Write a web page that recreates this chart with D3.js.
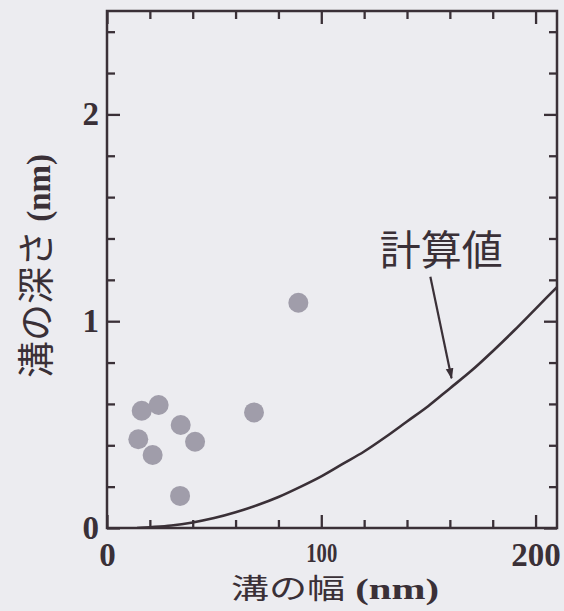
<!DOCTYPE html>
<html>
<head>
<meta charset="utf-8">
<script src="https://cdn.jsdelivr.net/npm/d3@7/dist/d3.min.js"></script>
<style>
  html, body { margin: 0; padding: 0; background: #ececf0; }
  svg { display: block; }
</style>
</head>
<body>
<script>
// ---- data ----
const pointX = [16.2, 24.1, 34.4, 41.1, 14.6, 21.3, 34.1, 68.6, 89.3];
const pointY = [0.567, 0.595, 0.498, 0.417, 0.429, 0.353, 0.155, 0.559, 1.089];

const curveX = [14, 20, 30, 40, 50, 60, 70, 80, 90, 100, 110, 120, 130, 140, 150, 160, 170, 180, 190, 200, 210];
const curveY = [0, 0.004, 0.012, 0.027, 0.048, 0.076, 0.11, 0.15, 0.198, 0.25, 0.31, 0.37, 0.44, 0.515, 0.59, 0.675, 0.76, 0.855, 0.955, 1.06, 1.165];

const xMinorTicks = [20, 40, 60, 80, 120, 140, 160, 180];
const xMajorTicks = [0, 100, 200];
const yMinorTicks = [0.2, 0.4, 0.6, 0.8, 1.2, 1.4, 1.6, 1.8, 2.2, 2.4];
const yMajorTicks = [0, 1, 2];

const xTitle = "溝の幅";
const yTitle = "溝の深さ";
const unitText = " (nm)";
const annoText = "計算値";
const annoLabelAt = [156, 1.27];
const annoArrowFrom = [150.9, 1.215];
const annoArrowTo = [160.8, 0.724];

// ---- layout ----
const W = 564, H = 611;
const ink = "#3a3037";
const svg = d3.select("body").append("svg").attr("width", W).attr("height", H);

const x = d3.scaleLinear().domain([0, 210]).range([107, 557]);
const y = d3.scaleLinear().domain([0, 2.5]).range([528, 11]);

svg.append("rect").attr("width", W).attr("height", H).attr("fill", "#ececf0");

function styleAxis(g) {
  g.select(".domain").remove();
  g.selectAll(".tick line").attr("stroke", ink).attr("stroke-width", 2.3);
  g.selectAll(".tick text")
    .attr("fill", ink)
    .style("font-family", "'Liberation Serif', 'Times New Roman', serif")
    .style("font-weight", "bold")
    .style("font-size", "33px");
}

const pBottom = y(0), pTop = y(2.5), pLeft = x(0), pRight = x(210);
const minorLen = 8, majorLen = 13;

// bottom
svg.append("g").attr("transform", `translate(0,${pBottom})`)
  .call(d3.axisBottom(x).tickValues(xMinorTicks).tickSize(-minorLen).tickFormat(() => "")).call(styleAxis);
const xb = svg.append("g").attr("transform", `translate(0,${pBottom})`)
  .call(d3.axisBottom(x).tickValues(xMajorTicks).tickSize(-majorLen).tickPadding(15).tickFormat(d3.format("d"))).call(styleAxis);
xb.selectAll(".tick text").filter(d => d === 100)
  .style("font-size", "27px").attr("textLength", 31).attr("lengthAdjust", "spacingAndGlyphs");
// top
svg.append("g").attr("transform", `translate(0,${pTop})`)
  .call(d3.axisTop(x).tickValues(xMinorTicks).tickSize(-minorLen).tickFormat(() => "")).call(styleAxis);
svg.append("g").attr("transform", `translate(0,${pTop})`)
  .call(d3.axisTop(x).tickValues(xMajorTicks).tickSize(-majorLen).tickFormat(() => "")).call(styleAxis);
// left
svg.append("g").attr("transform", `translate(${pLeft},0)`)
  .call(d3.axisLeft(y).tickValues(yMinorTicks).tickSize(-minorLen).tickFormat(() => "")).call(styleAxis);
svg.append("g").attr("transform", `translate(${pLeft},0)`)
  .call(d3.axisLeft(y).tickValues(yMajorTicks).tickSize(-majorLen).tickPadding(8).tickFormat(d3.format("d"))).call(styleAxis);
// right
svg.append("g").attr("transform", `translate(${pRight},0)`)
  .call(d3.axisRight(y).tickValues(yMinorTicks).tickSize(-minorLen).tickFormat(() => "")).call(styleAxis);
svg.append("g").attr("transform", `translate(${pRight},0)`)
  .call(d3.axisRight(y).tickValues(yMajorTicks).tickSize(-majorLen).tickFormat(() => "")).call(styleAxis);

// frame
svg.append("rect")
  .attr("x", pLeft).attr("y", pTop).attr("width", pRight - pLeft).attr("height", pBottom - pTop)
  .attr("fill", "none").attr("stroke", ink).attr("stroke-width", 2.5);

// clip
const defs = svg.append("defs");
defs.append("clipPath").attr("id", "clip").append("rect")
  .attr("x", pLeft).attr("y", pTop).attr("width", pRight - pLeft).attr("height", pBottom - pTop);

// curve
const curveData = curveX.map((v, i) => [v, curveY[i]]);
svg.append("path")
  .datum(curveData)
  .attr("clip-path", "url(#clip)")
  .attr("fill", "none").attr("stroke", ink).attr("stroke-width", 2.6)
  .attr("d", d3.line().x(d => x(d[0])).y(d => y(d[1])).curve(d3.curveMonotoneX));

// points
svg.append("g").selectAll("circle")
  .data(pointX.map((v, i) => [v, pointY[i]]))
  .join("circle")
  .attr("cx", d => x(d[0])).attr("cy", d => y(d[1])).attr("r", 10)
  .attr("fill", "#a09daa");

// annotation
defs.append("marker").attr("id", "arrow")
  .attr("viewBox", "0 0 10 10").attr("refX", 9).attr("refY", 5)
  .attr("markerWidth", 5).attr("markerHeight", 5).attr("orient", "auto")
  .attr("markerUnits", "strokeWidth")
  .append("path").attr("d", "M0,1.5 L10,5 L0,8.5 Z").attr("fill", ink);

svg.append("line")
  .attr("x1", x(annoArrowFrom[0])).attr("y1", y(annoArrowFrom[1]))
  .attr("x2", x(annoArrowTo[0])).attr("y2", y(annoArrowTo[1]))
  .attr("stroke", ink).attr("stroke-width", 2.2).attr("marker-end", "url(#arrow)");

svg.append("text")
  .attr("x", x(annoLabelAt[0])).attr("y", y(annoLabelAt[1]))
  .attr("text-anchor", "middle").attr("fill", ink)
  .style("font-family", "'Noto Sans CJK JP', sans-serif").style("font-size", "41px")
  .text(annoText);

// axis titles
const xt = svg.append("text").attr("transform", "translate(335,599) scale(1.36,1)").attr("text-anchor", "middle").attr("fill", ink);
xt.append("tspan").style("font-family", "'Noto Sans CJK JP', sans-serif").style("font-size", "28px").text(xTitle);
xt.append("tspan").style("font-family", "'Liberation Serif', serif").style("font-weight", "bold").style("font-size", "30px").text(unitText);

const yt = svg.append("text").attr("transform", "translate(50,266) rotate(-90)").attr("text-anchor", "middle").attr("fill", ink);
yt.append("tspan").style("font-family", "'Noto Sans CJK JP', sans-serif").style("font-size", "37px").text(yTitle);
yt.append("tspan").style("font-family", "'Liberation Serif', serif").style("font-weight", "bold").style("font-size", "33px").text(unitText);
</script>
</body>
</html>
